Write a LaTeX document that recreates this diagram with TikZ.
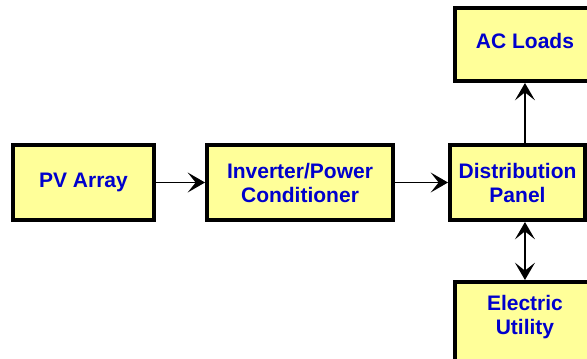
\documentclass[tikz,border=0pt]{standalone}
\usepackage{fontspec}
\setmainfont{Liberation Sans}
\usetikzlibrary{arrows.meta,positioning}
\definecolor{boxfill}{RGB}{255,255,153}
\definecolor{boxtext}{RGB}{0,0,204}

\begin{document}
\begin{tikzpicture}[
  x=0.75pt, y=-0.75pt,
  every node/.style={draw, line width=3pt, fill=boxfill, text=boxtext, font=\fontsize{15.75}{18}\selectfont\bfseries, align=center, minimum height=56.25pt, inner sep=0pt},
  >={Stealth[length=13pt,width=15pt,inset=6pt]}
]
\useasboundingbox (0,0) rectangle (587,358);
% Power chain, left to right
\node[minimum width=105.75pt] (pv) at (83.5,182.5) {PV Array};
\node[minimum width=139.5pt, right=36.75pt of pv] (inv) {Inverter/Power\\Conditioner};
\node[minimum width=101.25pt, right=39.75pt of inv] (dist) {Distribution\\Panel};

% Loads and grid
\node[minimum width=105pt, minimum height=54.75pt, text depth=6pt, above=45pt of dist, xshift=5.6pt] (acl) {AC Loads};
\node[minimum width=105pt, minimum height=60pt, text depth=10.8pt, below=43.5pt of dist, xshift=5.6pt] (util) {Electric\\Utility};

% Connections
\draw[->, line width=0.8pt] (pv) -- (inv);
\draw[->, line width=0.8pt] (inv) -- (dist);
\draw[->, line width=1.5pt] (acl.south |- dist.north) -- (acl.south);
\draw[<->, line width=1.5pt] (util.north |- dist.south) -- (util.north);
\end{tikzpicture}
\end{document}
